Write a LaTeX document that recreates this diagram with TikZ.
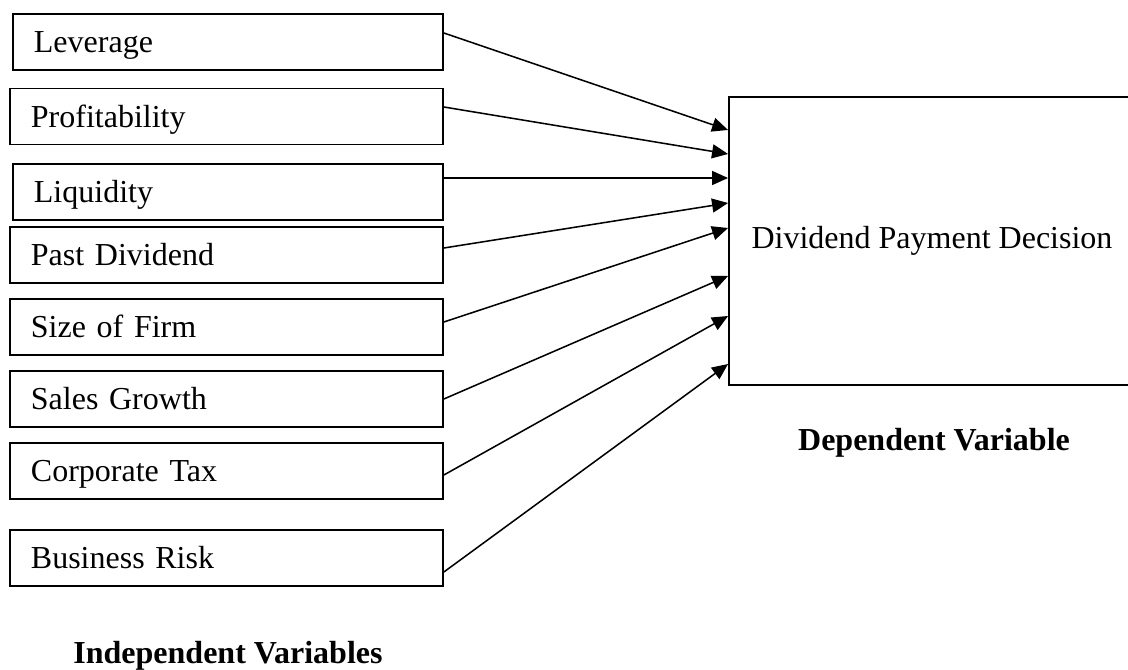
\documentclass[tikz,border=0pt]{standalone}
\usepackage{fontspec}
\setmainfont{Liberation Serif}
\usepackage{tikz}
\usetikzlibrary{calc,arrows.meta,positioning}
\tikzset{
  varbox/.style    = {rectangle, draw, line width=1.4pt, anchor=west,
                      minimum height=42pt, inner xsep=15.75pt, inner ysep=0pt,
                      text width=293.25pt, align=left,
                      text height=15.9pt, text depth=0pt},
  narrowbox/.style = {varbox, text width=291pt},
  depbox/.style    = {rectangle, draw, line width=1.4pt, inner sep=0pt,
                      minimum width=304.5pt, minimum height=216pt},
  infl/.style      = {-{Triangle[length=12pt,width=10.5pt]}, line width=1.15pt},
  caption/.style   = {anchor=base, font=\fontsize{24}{28}\selectfont\bfseries},
}

\begin{document}
\begin{tikzpicture}[x=0.75pt, y=-0.75pt, font=\fontsize{24}{28}\selectfont]
\useasboundingbox (0,0) rectangle (1128,670);
\clip (0,0) rectangle (1128,670);

% independent variables
\node[narrowbox] (lev)   at (12,42)    {Leverage};
\node[varbox]    (prof)  at (9,116.5)  {Profitability};
\node[narrowbox] (liq)   at (12,192)   {Liquidity};
\node[varbox]    (past)  at (9,255)    {Past Dividend};
\node[varbox]    (size)  at (9,327)    {Size of Firm};
\node[varbox]    (sales) at (9,399)    {Sales Growth};
\node[varbox]    (tax)   at (9,471)    {Corporate Tax};
\node[varbox]    (risk)  at (9,558)    {Business Risk};

% dependent variable
\node[depbox] (dpd) at (932,241) {Dividend Payment Decision};

\draw[infl] ($(lev.east)+(0,-9)$)     -- ($(dpd.west)+(0,-111)$);
\draw[infl] ($(prof.east)+(0,-9.5)$)  -- ($(dpd.west)+(0,-87)$);
\draw[infl] ($(liq.east)+(0,-14)$)    -- ($(dpd.west)+(0,-63)$);
\draw[infl] ($(past.east)+(0,-7)$)    -- ($(dpd.west)+(0,-38)$);
\draw[infl] ($(size.east)+(0,-5)$)    -- ($(dpd.west)+(0,-13)$);
\draw[infl] (sales.east)              -- ($(dpd.west)+(0,35)$);
\draw[infl] ($(tax.east)+(0,4)$)      -- ($(dpd.west)+(0,75)$);
\draw[infl] ($(risk.east)+(0,14)$)    -- ($(dpd.west)+(0,123)$);

\node[caption] (deplab) at (934,450) {Dependent Variable};
\node[caption] (indlab) at (228,663) {Independent Variables};
\end{tikzpicture}
\end{document}
